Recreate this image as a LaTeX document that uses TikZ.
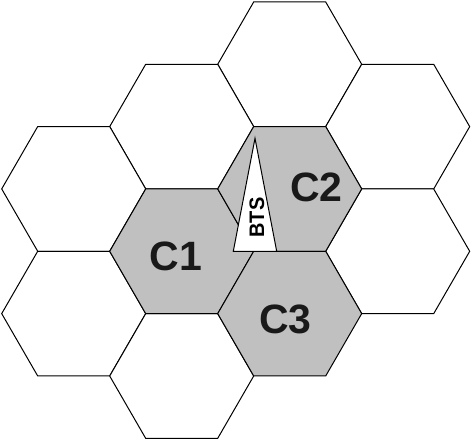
\documentclass[tikz,border=0pt]{standalone}
\usepackage{fontspec}
\setmainfont{Liberation Sans}
\begin{document}
\begin{tikzpicture}[x=1pt,y=-1pt,
  hexcell/.style={draw=black,line width=1pt,line join=miter},
  shaded/.style={hexcell,fill=cellgray},
  cellname/.style={inner sep=0pt,font=\bfseries\fontsize{41}{41}\selectfont,text=black!90},
  btsname/.style={inner sep=0pt,font=\bfseries\fontsize{21}{21}\selectfont,rotate=90,xscale=0.95}]
\definecolor{cellgray}{RGB}{192,192,192}
\useasboundingbox (0,0) rectangle (472,440);
\def\hexr{72}
% white cells
\foreach \cx/\cy in {289.7/64.3, 181.7/126.6, 397.7/126.6, 73.7/188.9, 397.7/251.3, 73.7/313.6, 181.7/376}{
  \draw[hexcell,fill=white,shift={(\cx,\cy)}] (0:\hexr) -- (60:\hexr) -- (120:\hexr) -- (180:\hexr) -- (240:\hexr) -- (300:\hexr) -- cycle;
}
% gray cells
\foreach \cx/\cy in {181.7/251.3, 289.7/188.9, 289.7/313.6}{
  \draw[shaded,shift={(\cx,\cy)}] (0:\hexr) -- (60:\hexr) -- (120:\hexr) -- (180:\hexr) -- (240:\hexr) -- (300:\hexr) -- cycle;
}
% BTS antenna
\coordinate (apex) at (255,138.3);
\coordinate (bl) at (233.3,251.3);
\coordinate (br) at (276.7,251.3);
\draw[line width=1pt,fill=white,line join=miter] (apex) -- (bl) -- (br) -- cycle;
\node[btsname] (bts) at (257,217.5) {BTS};
\node[cellname] (c1) at (176,256.5) {C1};
\node[cellname] (c2) at (316.5,187.5) {C2};
\node[cellname] (c3) at (285.5,319) {C3};
\end{tikzpicture}
\end{document}
